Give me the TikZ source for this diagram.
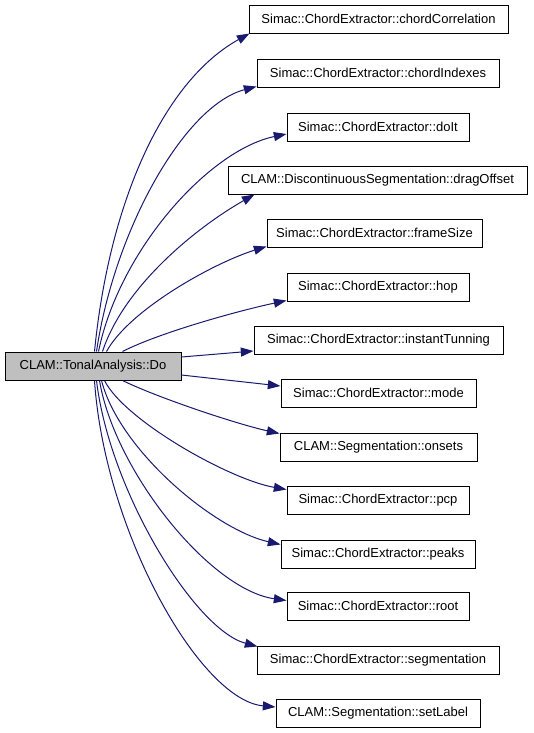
\documentclass[tikz,border=0pt]{standalone}
\usepackage{fontspec}
\setmainfont{Liberation Sans}
\usetikzlibrary{arrows.meta,calc}
\definecolor{edgeblue}{HTML}{191970}
\definecolor{focusgrey}{HTML}{BFBFBF}
\begin{document}
\begin{tikzpicture}[x=0.75pt,y=-0.75pt,
  box/.style={draw=black,line width=0.75pt,minimum height=21pt,inner sep=0pt,
    font=\fontsize{9.75pt}{12pt}\selectfont},
  w/.style={minimum width=#1*0.75pt},
  edge/.style={draw=edgeblue,line width=0.75pt,-{Triangle[length=9.5pt,width=6.75pt]},fill=none},
  ]
\useasboundingbox (0,0) rectangle (533,733);
\node[box,w=176,fill=focusgrey] (do) at (93,366) {CLAM::TonalAnalysis::Do};
\node[box,w=259] (cc) at (378.5,19) {Simac::ChordExtractor::chordCorrelation};
\node[box,w=242] (ci) at (378,73) {Simac::ChordExtractor::chordIndexes};
\node[box,w=182] (doit) at (378,127) {Simac::ChordExtractor::doIt};
\node[box,w=299] (drag) at (377.5,180) {CLAM::DiscontinuousSegmentation::dragOffset};
\node[box,w=215] (frame) at (374.5,233) {Simac::ChordExtractor::frameSize};
\node[box,w=182] (hop) at (378,287) {Simac::ChordExtractor::hop};
\node[box,w=249] (inst) at (378.5,340) {Simac::ChordExtractor::instantTunning};
\node[box,w=195] (mode) at (378.5,393) {Simac::ChordExtractor::mode};
\node[box,w=197] (onsets) at (378.5,447) {CLAM::Segmentation::onsets};
\node[box,w=182] (pcp) at (378,500) {Simac::ChordExtractor::pcp};
\node[box,w=194] (peaks) at (378,554) {Simac::ChordExtractor::peaks};
\node[box,w=182] (root) at (378,606) {Simac::ChordExtractor::root};
\node[box,w=242] (seg) at (378,660) {Simac::ChordExtractor::segmentation};
\node[box,w=204] (setl) at (378,713) {CLAM::Segmentation::setLabel};

\draw[edge] ($(do.north west)+(90,0)$) .. controls +(15,-152) and +(-85,47) .. ($(cc.south west)+(1,0)$);
\draw[edge] ($(do.north west)+(92,0)$) .. controls +(18,-122) and +(-72,19) .. ($(ci.south west)+(0,-1)$);
\draw[edge] ($(do.north west)+(94,0)$) .. controls +(21,-102) and +(-77,16) .. ($(doit.west)+(0,7)$);
\draw[edge] ($(do.north west)+(98,0)$) .. controls +(22,-67) and +(-55,31) .. ($(drag.south west)+(27,0)$);
\draw[edge] ($(do.north west)+(102,0)$) .. controls +(23,-42) and +(-52,16) .. ($(frame.south west)+(0,-1)$);
\draw[edge] ($(do.north west)+(118,0)$) .. controls +(37,-19) and +(-47,10) .. ($(hop.south west)+(0,-1)$);
\draw[edge] ($(do.east)+(0,-9)$) -- ($(inst.west)+(0,11)$);
\draw[edge] ($(do.east)+(0,9)$) -- ($(mode.west)+(0,-7)$);
\draw[edge] ($(do.south west)+(118,0)$) .. controls +(37,18) and +(-41,-9) .. ($(onsets.north west)+(0,1)$);
\draw[edge] ($(do.south west)+(100,0)$) .. controls +(20,40) and +(-57,-10) .. ($(pcp.north west)+(0,4)$);
\draw[edge] ($(do.south west)+(97,0)$) .. controls +(18,70) and +(-66,-15) .. ($(peaks.north west)+(0,5)$);
\draw[edge] ($(do.south west)+(95,0)$) .. controls +(15,90) and +(-77,-11) .. ($(root.north west)+(0,9)$);
\draw[edge] ($(do.south west)+(92,0)$) .. controls +(13,110) and +(-63,-17) .. ($(seg.north west)+(1,1)$);
\draw[edge] ($(do.south west)+(90,0)$) .. controls +(10,150) and +(-76,-7) .. ($(setl.west)+(0,-6)$);
\end{tikzpicture}
\end{document}
